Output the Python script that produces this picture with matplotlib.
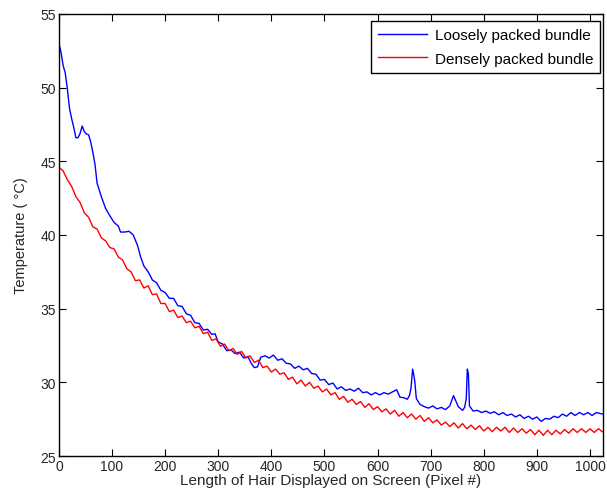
import numpy as np
import matplotlib.pyplot as plt

plt.rcParams['font.family'] = ['Liberation Sans', 'DejaVu Sans']

# loosely packed bundle (blue)
loose_x = [0, 4, 8, 12, 16, 20, 24, 28, 32, 36, 40, 44, 48, 52, 56, 60, 64, 68, 72, 80,
           88, 96, 104, 112, 116, 124, 132, 140, 148, 154, 160, 168, 176, 184, 192, 200,
           208, 216, 224, 232, 240, 248, 256, 264, 272, 280, 288, 294, 300, 308, 316, 324,
           332, 340, 348, 356, 362, 368, 374, 380, 388, 396, 404, 412, 420, 428, 436, 444,
           452, 460, 468, 476, 484, 492, 500, 508, 516, 524, 532, 540, 548, 556, 564, 572,
           580, 588, 596, 604, 612, 620, 628, 636, 642, 650, 656, 660, 663, 666, 668, 670,
           673, 680, 688, 696, 704, 712, 720, 728, 736, 740, 743, 746, 752, 760, 764, 767,
           769, 771, 773, 780, 788, 796, 804, 812, 820, 828, 836, 844, 852, 860, 868, 876,
           884, 892, 900, 908, 916, 924, 932, 940, 948, 956, 964, 972, 980, 988, 996, 1004,
           1012, 1023]
loose_t = [53.0, 52.4, 51.5, 51.0, 49.9, 48.6, 47.9, 47.3, 46.6, 46.6, 46.9, 47.4, 47.0, 46.85,
           46.8, 46.3, 45.6, 44.8, 43.5, 42.6, 41.8, 41.3, 40.85, 40.6, 40.2, 40.2, 40.25, 40.0,
           39.3, 38.5, 37.9, 37.5, 36.95, 36.75, 36.25, 36.1, 35.7, 35.7, 35.2, 35.15, 34.65,
           34.55, 34.05, 34.0, 33.55, 33.6, 33.25, 33.3, 32.75, 32.6, 32.15, 32.2, 31.95, 32.05,
           31.65, 31.75, 31.3, 31.0, 31.05, 31.7, 31.8, 31.65, 31.85, 31.5, 31.6, 31.3, 31.25,
           30.95, 31.1, 30.85, 30.95, 30.6, 30.55, 30.15, 30.2, 29.85, 29.95, 29.55, 29.7, 29.45,
           29.55, 29.4, 29.6, 29.3, 29.35, 29.15, 29.3, 29.15, 29.3, 29.2, 29.35, 29.5, 29.0,
           28.95, 28.85, 29.1, 29.6, 30.9, 30.55, 30.1, 28.9, 28.5, 28.35, 28.25, 28.4, 28.2,
           28.3, 28.15, 28.4, 28.8, 29.1, 28.85, 28.35, 28.1, 28.3, 28.9, 30.9, 30.6, 28.4,
           28.05, 28.1, 27.95, 28.05, 27.9, 28.0, 27.8, 27.95, 27.75, 27.85, 27.65, 27.8, 27.55,
           27.7, 27.5, 27.65, 27.35, 27.55, 27.5, 27.7, 27.6, 27.85, 27.7, 27.95, 27.75, 27.95,
           27.8, 27.95, 27.75, 27.95, 27.85]

# densely packed bundle (red)
dense_x = list(range(0, 1024, 8)) + [1023]
dense_t = [44.6, 44.35, 43.75, 43.3, 42.6, 42.2, 41.5, 41.2, 40.55, 40.4, 39.8, 39.6, 39.15,
           39.05, 38.5, 38.3, 37.7, 37.5, 36.9, 36.95, 36.4, 36.55, 35.95, 36.0, 35.35, 35.35,
           34.8, 34.9, 34.4, 34.5, 34.05, 34.15, 33.7, 33.8, 33.3, 33.4, 32.85, 32.95, 32.45,
           32.6, 32.15, 32.3, 31.9, 32.1, 31.65, 31.8, 31.35, 31.5, 31.0, 31.1, 30.7, 30.9,
           30.55, 30.65, 30.2, 30.35, 29.9, 30.15, 29.75, 30.0, 29.6, 29.75, 29.35, 29.55, 29.15,
           29.3, 28.85, 29.05, 28.65, 28.85, 28.5, 28.7, 28.3, 28.55, 28.15, 28.35, 28.0, 28.2,
           27.85, 28.1, 27.7, 27.95, 27.6, 27.85, 27.5, 27.75, 27.35, 27.6, 27.25, 27.45, 27.1,
           27.3, 27.0, 27.25, 26.9, 27.2, 26.85, 27.1, 26.8, 27.05, 26.7, 26.95, 26.65, 26.95,
           26.7, 26.95, 26.6, 26.9, 26.6, 26.85, 26.55, 26.8, 26.45, 26.75, 26.4, 26.75, 26.45,
           26.75, 26.5, 26.8, 26.55, 26.85, 26.6, 26.85, 26.6, 26.85, 26.6, 26.85, 26.65]

fig = plt.figure(figsize=(6.07, 4.89), dpi=100)
ax = fig.add_axes([0.097, 0.0654, 0.896, 0.904])

ax.plot(loose_x, loose_t, color='#0000ff', lw=1.0, label='Loosely packed bundle')
ax.plot(dense_x, dense_t, color='#ff0000', lw=1.0, label='Densely packed bundle')

ax.set_xlim(0, 1024)
ax.set_ylim(25, 55)
ax.set_xticks(np.arange(0, 1001, 100))
ax.set_yticks(np.arange(25, 56, 5))
ax.tick_params(direction='in', top=True, right=True, length=5, labelsize=10,
               labelcolor='#262626', pad=2)
for s in ax.spines.values():
    s.set_linewidth(1.0)

ax.set_xlabel('Length of Hair Displayed on Screen (Pixel #)', fontsize=11,
              color='#262626', labelpad=0)
ax.set_ylabel('Temperature ( °C)', fontsize=10.5, color='#262626', labelpad=9)

leg = ax.legend(loc='upper right', bbox_to_anchor=(0.995, 0.984), borderaxespad=0,
                fancybox=False, framealpha=1, edgecolor='black',
                fontsize=11, handlelength=3.2, handletextpad=0.5, labelspacing=0.65,
                borderpad=0.45)
leg.get_frame().set_linewidth(1.0)

fig.savefig('out.png', dpi=100)
